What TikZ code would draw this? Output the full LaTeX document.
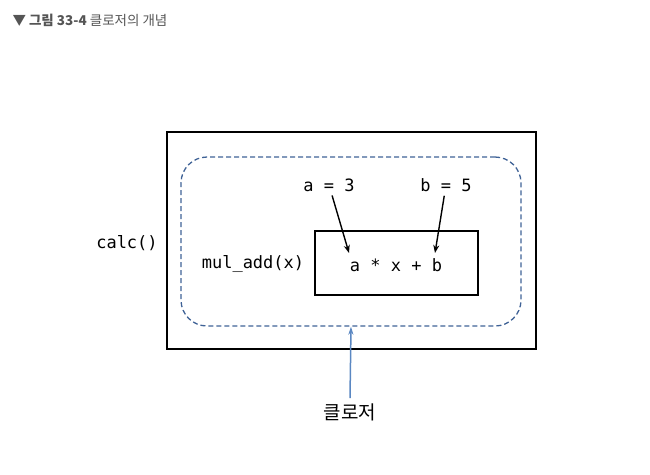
\documentclass[tikz,border=0pt]{standalone}
\usepackage{fontspec}
\setmonofont{DejaVu Sans Mono}
\newfontfamily\krfont{Noto Sans CJK KR}
\usepackage{xcolor}
\definecolor{dashblue}{HTML}{3F6296}
\definecolor{arrowblue}{HTML}{5A87C2}
\definecolor{titlegray}{HTML}{555555}
\usetikzlibrary{positioning, arrows.meta}

\begin{document}
\begin{tikzpicture}[x=1pt, y=-1pt, code/.style={font=\ttfamily\fontsize{17}{20}\selectfont, inner sep=0pt}]
\tikzset{box/.style={draw, line width=1.4pt, inner sep=0pt}}
\useasboundingbox (0,0) rectangle (650,474);

\node[anchor=west, text=titlegray, font=\krfont\fontsize{13.5}{16}\selectfont] (title) at (9,20) {▼ \textbf{그림 33-4} 클로저의 개념};

\node[box, minimum width=369, minimum height=217] (calc) at (351.5,240.5) {};
\node[draw=dashblue, line width=1.3pt, dash pattern=on 5pt off 3pt, rounded corners=26pt, minimum width=340, minimum height=169] (closure) at (351,241.5) {};
\node[box, minimum width=163, minimum height=64] (body) at (396.5,263) {};

\node[code] (calcname) at (127,243) {calc()};
\node[code] (muladd) at (253,264) {mul\_add(x)};
\node[code] (expr) at (396,265) {a * x + b};
\node[code] (aval) at (329,185) {a = 3};
\node[code] (bval) at (446,185) {b = 5};
\node[font=\krfont\fontsize{19}{22}\selectfont, inner sep=0pt] (label) at (350,412) {클로저};

\coordinate (atip) at (349,253);
\coordinate (btip) at (435,253);

\path[-{Stealth[length=8pt, width=6pt]}, line width=1.4pt]
(aval) edge[shorten <=4pt] (atip)
(bval) edge[shorten <=4pt] (btip);
\draw[-{Stealth[length=8pt, width=5pt]}, line width=1.5pt, arrowblue] (label.north) ++(0,-5) -- (closure.south);
\end{tikzpicture}
\end{document}
